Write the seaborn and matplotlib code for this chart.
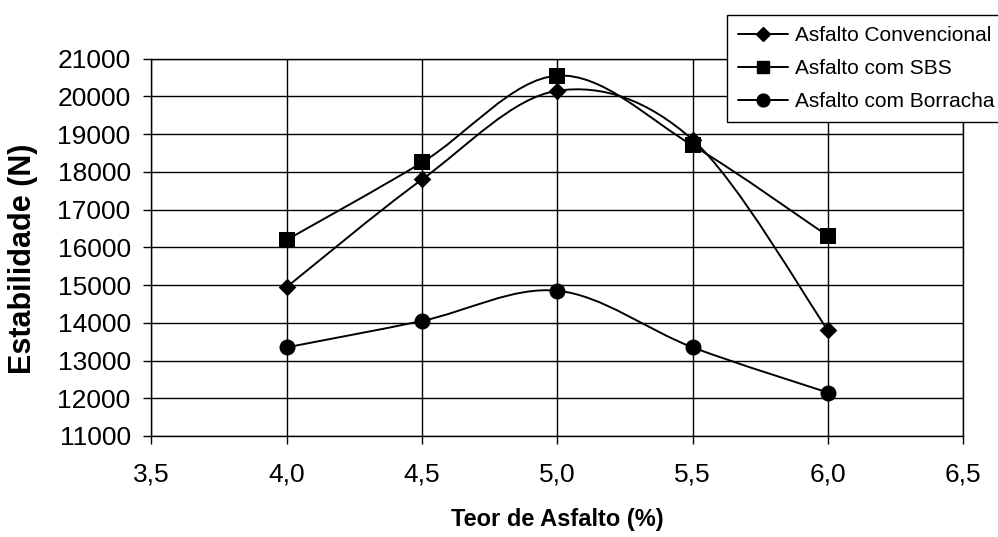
import numpy as np
import matplotlib
matplotlib.use("Agg")
import matplotlib.pyplot as plt
import seaborn as sns
from matplotlib.path import Path
from matplotlib.patches import PathPatch
from matplotlib.lines import Line2D
from matplotlib.ticker import FuncFormatter, FixedLocator

# ---- data ----
teor = [4.0, 4.5, 5.0, 5.5, 6.0]
convencional = [14950, 17800, 20150, 18850, 13800]
sbs = [16200, 18250, 20550, 18700, 16300]
borracha = [13350, 14050, 14850, 13350, 12150]
series_names = ["Asfalto Convencional", "Asfalto com SBS", "Asfalto com Borracha"]
x_ticks = [3.5, 4.0, 4.5, 5.0, 5.5, 6.0, 6.5]
y_ticks = [11000, 12000, 13000, 14000, 15000, 16000, 17000, 18000, 19000, 20000, 21000]
x_label = "Teor de Asfalto (%)"
y_label = "Estabilidade (N)"

sns.set_theme(style="white")
plt.rcParams["font.family"] = ["Liberation Sans", "DejaVu Sans"]

fig = plt.figure(figsize=(9.98, 5.37), dpi=100)
ax = fig.add_axes([0.1518, 0.1881, 0.8134, 0.7026])


def smooth_path(xs, ys):
    """Excel-like smoothed line: cubic Bezier through the data points."""
    pts = np.column_stack([xs, ys]).astype(float)
    n = len(pts)
    verts = [pts[0]]
    codes = [Path.MOVETO]
    for i in range(n - 1):
        p0 = pts[i - 1] if i > 0 else pts[i]
        p1 = pts[i]
        p2 = pts[i + 1]
        p3 = pts[i + 2] if i + 2 < n else pts[i + 1]
        c1 = p1 + (p2 - p0) / 6.0
        c2 = p2 - (p3 - p1) / 6.0
        verts += [c1, c2, p2]
        codes += [Path.CURVE4] * 3
    return Path(verts, codes)


series = [convencional, sbs, borracha]
markers = ["D", "s", "o"]
msizes = [9.0, 11.5, 11.5]

for vals, m, ms in zip(series, markers, msizes):
    ax.add_patch(PathPatch(smooth_path(teor, vals), fill=False, edgecolor="black",
                           lw=1.4, zorder=2))
    sns.scatterplot(x=teor, y=vals, marker=m, s=ms ** 2, color="black",
                    linewidth=0, ax=ax, zorder=3, legend=False)

ax.set_xlim(3.5, 6.5)
ax.set_ylim(11000, 21000)
ax.xaxis.set_major_locator(FixedLocator(x_ticks))
ax.yaxis.set_major_locator(FixedLocator(y_ticks))
ax.xaxis.set_major_formatter(FuncFormatter(lambda v, _: f"{v:.1f}".replace(".", ",")))
ax.yaxis.set_major_formatter(FuncFormatter(lambda v, _: f"{int(round(v))}"))

ax.grid(True, color="black", lw=1.0)
ax.set_axisbelow(True)
for s in ax.spines.values():
    s.set_color("black")
    s.set_linewidth(1.0)

ax.tick_params(axis="both", which="major", bottom=True, left=True, direction="out",
               length=6, width=1.0, colors="black", labelsize=19)
ax.tick_params(axis="x", pad=13)
ax.tick_params(axis="y", pad=9)

ax.set_xlabel(x_label, fontsize=17, fontweight="bold", color="black")
ax.set_ylabel(y_label, fontsize=22, fontweight="bold", color="black")
ax.xaxis.set_label_coords(0.5, -0.2226)
ax.xaxis.label.set_va("center")
ax.yaxis.set_label_coords(-0.158, 0.469)
ax.yaxis.label.set_va("center")

handles = [Line2D([], [], color="black", lw=1.4, marker=m, markersize=ms * 0.8)
           for m, ms in zip(markers, msizes)]
leg = fig.legend(handles, series_names, loc="upper left",
                 bbox_to_anchor=(727 / 998, 1 - 15 / 537), frameon=True, fancybox=False,
                 edgecolor="black", framealpha=1, fontsize=15.0, handlelength=2.4,
                 handletextpad=0.3, borderpad=0.55, labelspacing=0.66, borderaxespad=0)
leg.get_frame().set_linewidth(1.0)
for t in leg.get_texts():
    t.set_color("black")

fig.savefig("out.png", dpi=100)
